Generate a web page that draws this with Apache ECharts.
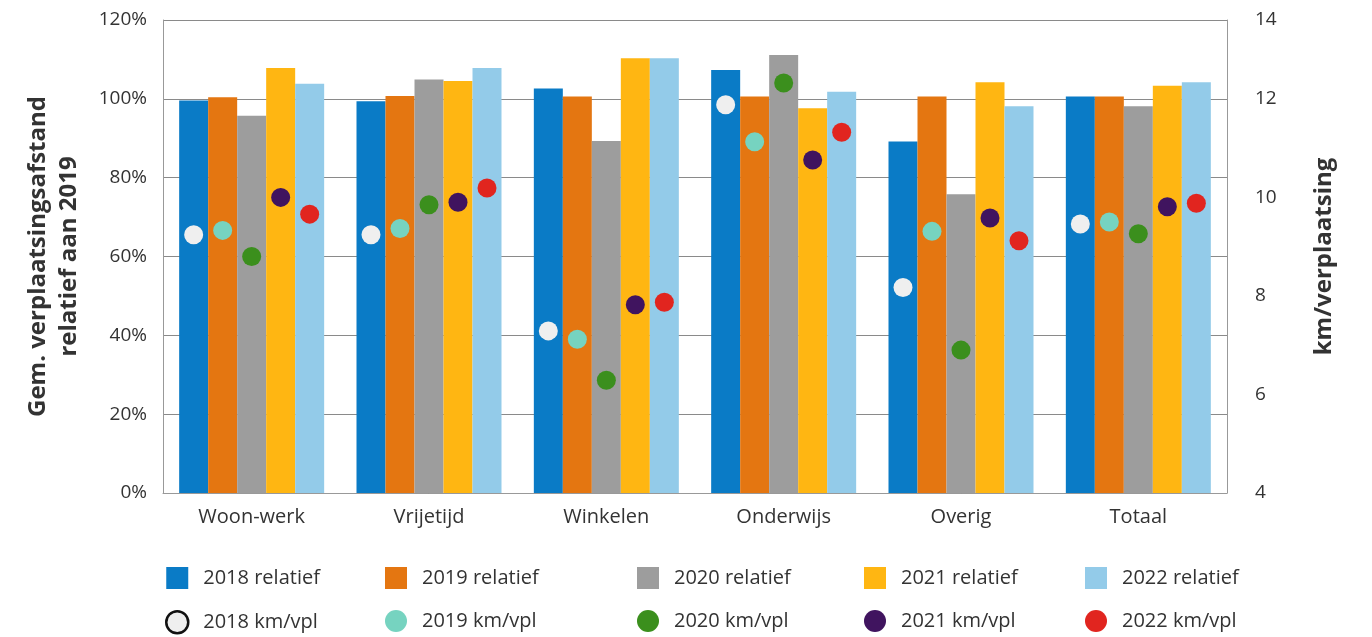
<!DOCTYPE html>
<html><head><meta charset="utf-8">
<script src="https://cdn.jsdelivr.net/npm/echarts@6/dist/echarts.min.js"></script>
<style>html,body{margin:0;padding:0;background:#fff}#c{width:1372px;height:637px}</style>
</head><body><div id="c"></div>
<script>
const categories = ['Woon-werk','Vrijetijd','Winkelen','Onderwijs','Overig','Totaal'];
const years = ['2018','2019','2020','2021','2022'];
const rel2018 = [99.6, 99.4, 102.6, 107.3, 89.2, 100.6];
const rel2019 = [100.4, 100.7, 100.6, 100.6, 100.6, 100.6];
const rel2020 = [95.7, 104.9, 89.3, 111.1, 75.8, 98.1];
const rel2021 = [107.8, 104.5, 110.3, 97.6, 104.2, 103.3];
const rel2022 = [103.8, 107.8, 110.3, 101.8, 98.1, 104.2];
const km2018 = [9.24, 9.24, 7.29, 11.88, 8.17, 9.46];
const km2019 = [9.33, 9.37, 7.12, 11.13, 9.31, 9.50];
const km2020 = [8.80, 9.85, 6.29, 12.32, 6.90, 9.26];
const km2021 = [10.00, 9.90, 7.82, 10.76, 9.58, 9.81];
const km2022 = [9.66, 10.19, 7.87, 11.32, 9.12, 9.88];
const leftTicks = {min: 0, max: 120, interval: 20};
const rightTicks = {min: 4, max: 13.6, interval: 2, topLabel: '14'};

const relData = [rel2018, rel2019, rel2020, rel2021, rel2022];
const kmData = [km2018, km2019, km2020, km2021, km2022];
const barColors = ['#0a7bc6', '#e47611', '#9d9d9d', '#ffb612', '#93cbe9'];
const dotColors = ['#efefef', '#76d3c0', '#3b8f1d', '#40145f', '#e1251f'];
const FONT = 'Open Sans';
const BW = 29;

const series = [];
years.forEach((y, j) => {
  series.push({
    name: y + ' relatief', type: 'bar', yAxisIndex: 0,
    barWidth: BW, barGap: '0%',
    itemStyle: {color: barColors[j]},
    data: relData[j]
  });
});
years.forEach((y, j) => {
  series.push({
    name: y + ' km/vpl', type: 'scatter', yAxisIndex: 1, z: 5,
    symbol: 'circle', symbolSize: 19,
    symbolOffset: [(j - 2) * BW, 0],
    itemStyle: {color: dotColors[j], opacity: 1},
    data: kmData[j]
  });
});

const colLeft = [165, 385, 637, 864, 1085];
const legends = years.map((y, j) => ({
  orient: 'vertical', left: colLeft[j], top: 567, padding: 0,
  itemWidth: 22, itemHeight: 22, itemGap: 21,
  textStyle: {fontFamily: FONT, fontSize: 20, color: '#333', padding: [0, 0, 0, 10]},
  data: [
    {name: y + ' relatief', icon: 'rect'},
    j === 0 ? {name: y + ' km/vpl', icon: 'circle', itemStyle: {borderColor: '#111', borderWidth: 2.5}}
            : {name: y + ' km/vpl', icon: 'circle'}
  ]
}));

const chart = echarts.init(document.getElementById('c'));
chart.setOption({
  animation: false,
  backgroundColor: '#fff',
  grid: {left: 163, right: 145, top: 20, bottom: 144, containLabel: false},
  legend: legends,
  xAxis: {
    type: 'category', data: categories,
    axisLine: {show: true, lineStyle: {color: '#999'}},
    axisTick: {show: false},
    axisLabel: {fontFamily: FONT, fontSize: 20, color: '#333', margin: 14}
  },
  yAxis: [{
    type: 'value', min: leftTicks.min, max: leftTicks.max, interval: leftTicks.interval,
    name: 'Gem. verplaatsingsafstand\nrelatief aan 2019',
    nameLocation: 'middle', nameGap: 78, nameRotate: 90,
    nameTextStyle: {fontFamily: FONT, fontSize: 24, fontWeight: 'bold', color: '#333', lineHeight: 31},
    axisLine: {show: true, lineStyle: {color: '#999'}},
    axisTick: {show: false},
    axisLabel: {fontFamily: FONT, fontSize: 19, color: '#333', margin: 16, formatter: '{value}%'},
    splitLine: {show: true, lineStyle: {color: '#8a8a8a', width: 1}}
  }, {
    type: 'value', min: rightTicks.min, max: rightTicks.max, interval: rightTicks.interval,
    position: 'right',
    name: 'km/verplaatsing',
    nameLocation: 'middle', nameGap: 85, nameRotate: 90,
    nameTextStyle: {fontFamily: FONT, fontSize: 24, fontWeight: 'bold', color: '#333'},
    axisLine: {show: true, lineStyle: {color: '#999'}},
    axisTick: {show: false},
    axisLabel: {fontFamily: FONT, fontSize: 19, color: '#333', margin: 28,
      formatter: v => (v > rightTicks.max - 1 ? rightTicks.topLabel : String(v)),
      showMaxLabel: true},
    splitLine: {show: false}
  }],
  series: series
});
</script></body></html>
